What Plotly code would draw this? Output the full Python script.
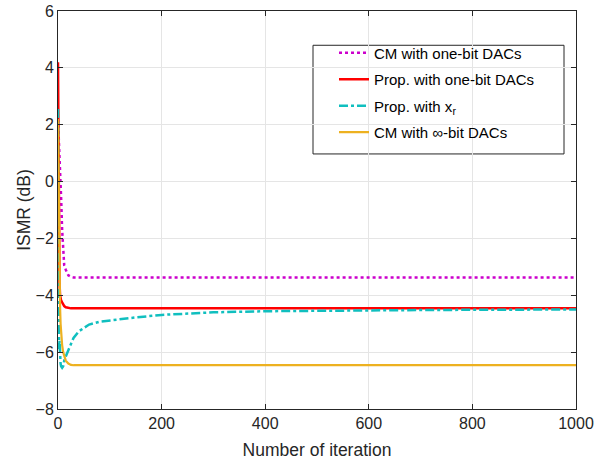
import plotly.graph_objects as go

iters = [0, 1, 2, 3, 4, 5, 6, 8, 10, 12, 15, 20, 25, 30, 40, 60, 80, 100, 125, 150,
         200, 300, 400, 500, 600, 700, 800, 900, 1000]

cm_one_bit = [2.2, 1.8, 1.4, 1.0, 0.5, 0.0, -0.55, -1.7, -2.6, -2.95, -3.1, -3.3, -3.35, -3.37, -3.37,
              -3.37, -3.37, -3.37, -3.37, -3.37, -3.37, -3.37, -3.37, -3.37, -3.37, -3.37, -3.37, -3.37, -3.37]

prop_one_bit = [4.2, 0.5, -2.5, -3.6, -4.0, -4.1, -4.18, -4.25, -4.33, -4.38, -4.42, -4.45, -4.46, -4.46, -4.46,
                -4.46, -4.46, -4.46, -4.46, -4.46, -4.46, -4.46, -4.46, -4.46, -4.46, -4.46, -4.46, -4.46, -4.46]

prop_xr = [2.55, -5.3, -5.9, -5.6, -6.2, -6.4, -6.5, -6.55, -6.5, -6.3, -6.15, -5.95, -5.7, -5.5, -5.27,
           -5.03, -4.93, -4.88, -4.83, -4.78, -4.69, -4.6, -4.56, -4.54, -4.53, -4.52, -4.51, -4.51, -4.5]

cm_inf_bit = [2.2, 0.0, -2.0, -3.5, -4.4, -5.0, -5.3, -5.75, -6.0, -6.15, -6.3, -6.4, -6.45, -6.46, -6.46,
              -6.46, -6.46, -6.46, -6.46, -6.46, -6.46, -6.46, -6.46, -6.46, -6.46, -6.46, -6.46, -6.46, -6.46]

series_names = ["CM with one-bit DACs", "Prop. with one-bit DACs",
                "Prop. with x<sub>r</sub>", "CM with \u221e-bit DACs"]
x_ticks = [0, 200, 400, 600, 800, 1000]
y_ticks = [-8, -6, -4, -2, 0, 2, 4, 6]

FONT = "Liberation Sans, Arial, Helvetica"
DARK = "#262626"

fig = go.Figure()
styles = [
    dict(color="#CC00CC", width=2.5, dash="dot"),
    dict(color="#FF0000", width=2.5),
    dict(color="#10BFBF", width=2.5, dash="dashdot"),
    dict(color="#EDB120", width=2.2),
]
for i, (yv, nm, st) in enumerate(zip([cm_one_bit, prop_one_bit, prop_xr, cm_inf_bit], series_names, styles)):
    fig.add_trace(go.Scatter(x=iters, y=yv, mode="lines", name=nm, line=st, legendgroup=f"g{i}"))

axis_common = dict(
    showline=True, linecolor=DARK, linewidth=1, mirror="ticks",
    ticks="inside", ticklen=5, tickcolor=DARK,
    showgrid=True, gridcolor="#E5E5E5", gridwidth=1, zeroline=False,
    tickfont=dict(family=FONT, size=16, color=DARK),
    ticklabeloverflow="allow",
)

fig.update_xaxes(range=[0, 1000], tickvals=x_ticks,
                 title=dict(text="Number of iteration", font=dict(family=FONT, size=17.5, color=DARK), standoff=12),
                 **axis_common)
fig.update_yaxes(range=[-8, 6], tickvals=y_ticks,
                 title=dict(text="ISMR (dB)", font=dict(family=FONT, size=17.5, color=DARK), standoff=0),
                 **axis_common)

# legend frame (white box with dark border)
fig.add_shape(type="rect", xref="paper", yref="paper",
              x0=(313 - 58) / 518, x1=(564 - 58) / 518,
              y0=1 - (149 - 3) / 406.5, y1=1 - (38 - 3) / 406.5,
              line=dict(color=DARK, width=1), fillcolor="white", layer="between")

fig.update_layout(
    width=611, height=465,
    margin=dict(l=58, r=35, t=3, b=55.5),
    plot_bgcolor="white", paper_bgcolor="white",
    legend=dict(x=(334 - 58) / 518, y=1 - (29 - 3) / 406.5, xanchor="left", yanchor="top",
                bgcolor="rgba(0,0,0,0)", borderwidth=0,
                font=dict(family=FONT, size=15, color="#000000"),
                itemwidth=30, tracegroupgap=4),
    showlegend=True,
)

fig.write_html("out.html", config={"displayModeBar": False},
               post_script="document.body.style.margin='0px';")
